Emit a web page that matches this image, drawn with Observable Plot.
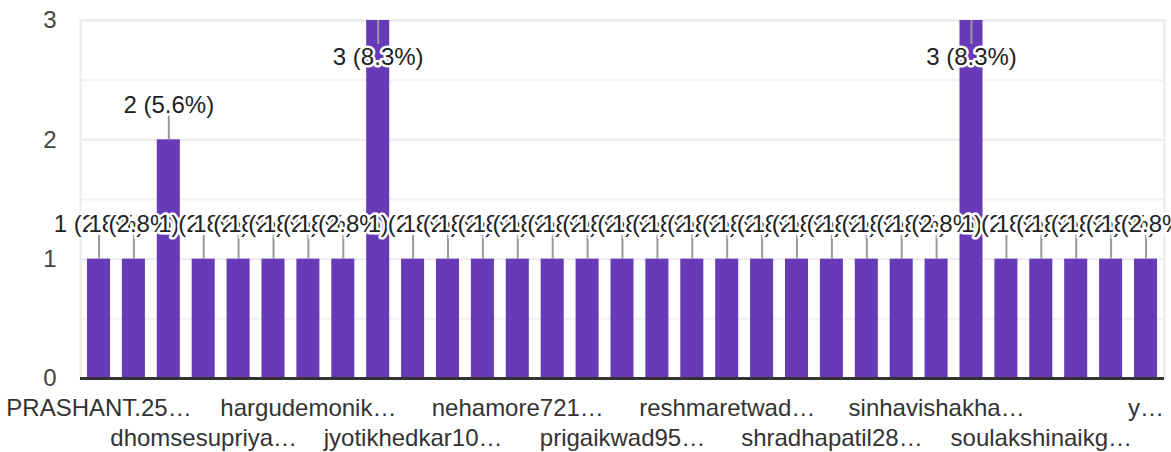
<!DOCTYPE html>
<html>
<head>
<meta charset="utf-8">
<script src="https://cdn.jsdelivr.net/npm/d3@7"></script>
<script src="https://cdn.jsdelivr.net/npm/@observablehq/plot@0.6"></script>
<style>
  html, body { margin: 0; padding: 0; background: #ffffff; }
  #chart { width: 1171px; height: 452px; overflow: hidden; }
</style>
</head>
<body>
<div id="chart"></div>
<script>
// Categories (responses, alphabetical); only every third one is labelled in the picture
const categories = [
  "PRASHANT.25…", "(unlabelled 2)", "(unlabelled 3)",
  "dhomsesupriya…", "(unlabelled 5)", "(unlabelled 6)",
  "hargudemonik…", "(unlabelled 8)", "(unlabelled 9)",
  "jyotikhedkar10…", "(unlabelled 11)", "(unlabelled 12)",
  "nehamore721…", "(unlabelled 14)", "(unlabelled 15)",
  "prigaikwad95…", "(unlabelled 17)", "(unlabelled 18)",
  "reshmaretwad…", "(unlabelled 20)", "(unlabelled 21)",
  "shradhapatil28…", "(unlabelled 23)", "(unlabelled 24)",
  "sinhavishakha…", "(unlabelled 26)", "(unlabelled 27)",
  "soulakshinaikg…", "(unlabelled 29)", "(unlabelled 30)",
  "y…"
];
const counts = [
  1, 1, 2, 1, 1, 1, 1, 1, 3, 1,
  1, 1, 1, 1, 1, 1, 1, 1, 1, 1,
  1, 1, 1, 1, 1, 3, 1, 1, 1, 1,
  1
];
const yTicks = [0, 1, 2, 3];
const gridValues = [0.5, 1, 1.5, 2, 2.5, 3];
const xRow1 = categories.filter((d, i) => i % 6 === 0);
const xRow2 = categories.filter((d, i) => i % 6 === 3);

const total = d3.sum(counts);
const yMax = d3.max(yTicks);
const stem = 0.2; // annotation stem length, in value units
const data = categories.map((name, i) => ({
  name,
  count: counts[i],
  label: `${counts[i]} (${(counts[i] / total * 100).toFixed(1)}%)`
}));
const outside = data.filter(d => d.count < yMax);
const inside = data.filter(d => d.count >= yMax);

const chart = Plot.plot({
  width: 1171,
  height: 452,
  marginTop: 20,
  marginBottom: 74,
  marginLeft: 80,
  marginRight: 7,
  style: { fontFamily: "'Liberation Sans', Arial, sans-serif", fontSize: "24px", background: "#ffffff" },
  x: { type: "band", domain: categories, paddingInner: 0.34, paddingOuter: 0.2, round: false },
  y: { domain: [0, yMax] },
  marks: [
    Plot.ruleY(gridValues, { stroke: d => Number.isInteger(d) ? "#ebebeb" : "#f2f2f2", strokeWidth: 2 }),
    Plot.frame({ stroke: "#ebebeb", strokeWidth: 2 }),
    Plot.barY(data, { x: "name", y: "count", fill: "#673ab7" }),
    Plot.ruleY([0], { stroke: "#333333", strokeWidth: 3 }),
    Plot.ruleX(outside, { x: "name", y1: "count", y2: d => d.count + stem, stroke: "#999999", strokeWidth: 2 }),
    Plot.ruleX(inside, { x: "name", y1: "count", y2: d => d.count - stem, stroke: "#999999", strokeWidth: 2 }),
    Plot.text(outside, {
      x: "name", y: d => d.count + stem, text: "label",
      lineAnchor: "bottom", dy: -3, fill: "#222222",
      stroke: "#ffffff", strokeWidth: 5, strokeLinejoin: "round"
    }),
    Plot.text(inside, {
      x: "name", y: d => d.count - stem, text: "label",
      lineAnchor: "top", dy: 4, fill: "#222222",
      stroke: "#ffffff", strokeWidth: 5, strokeLinejoin: "round"
    }),
    Plot.axisY({ ticks: yTicks, tickSize: 0, tickPadding: 24, tickFormat: d3.format("d"), color: "#444444", label: null }),
    Plot.axisX({ ticks: xRow1, tickSize: 0, tickPadding: 20, color: "#333333", label: null }),
    Plot.axisX({ ticks: xRow2, tickSize: 0, tickPadding: 50, color: "#333333", label: null })
  ]
});
document.getElementById("chart").appendChild(chart);
</script>
</body>
</html>
